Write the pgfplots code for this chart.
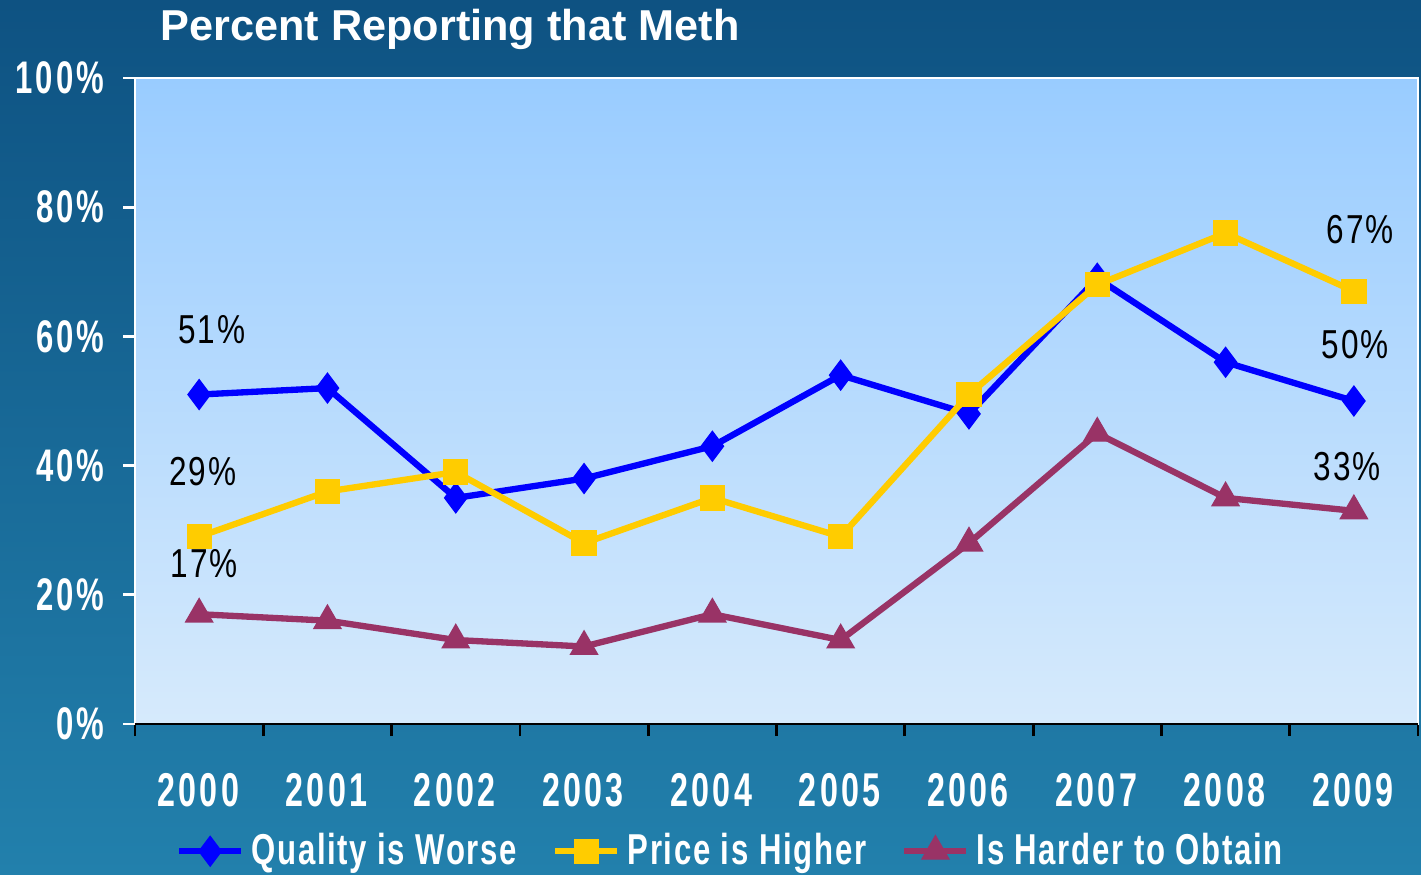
\documentclass[border=0pt]{standalone}
\usepackage{pgfplots}
\pgfplotsset{compat=1.18}
\usepackage{fontspec}
\setmainfont{Liberation Sans}
\newfontfamily\narrowfont[FakeStretch=0.72,LetterSpace=4]{Liberation Sans}
\newfontfamily\tickfont[FakeStretch=0.68,LetterSpace=7]{Liberation Sans}
\newfontfamily\labelfont[FakeStretch=0.78,LetterSpace=5]{Liberation Sans}

\definecolor{bgtop}{RGB}{14,82,130}
\definecolor{bgbot}{RGB}{34,128,172}
\definecolor{plottop}{RGB}{153,204,255}
\definecolor{plotbot}{RGB}{214,234,252}
\definecolor{qblue}{RGB}{0,0,255}
\definecolor{pyellow}{RGB}{255,204,0}
\definecolor{hmaroon}{RGB}{153,51,102}

\begin{document}
\begin{tikzpicture}
  \shade[top color=bgtop, bottom color=bgbot] (0,0) rectangle (14.21cm,8.74cm);
  \node[anchor=west, text=white, font=\bfseries\fontsize{12.3}{14}\selectfont, inner sep=0pt]
    at (1.60cm,8.45cm) {Percent Reporting that Meth};

  \begin{axis}[
      at={(1.35cm,1.50cm)}, anchor=south west,
      scale only axis,
      width=12.83cm, height=6.46cm,
      xmin=-0.5, xmax=9.5,
      ymin=0, ymax=100,
      axis background/.style={shade, top color=plottop, bottom color=plotbot},
      axis line style={white, line width=0.8pt},
      xtick={-0.5,0.5,...,9.5},
      x tick label as interval,
      xticklabels={2000,2001,2002,2003,2004,2005,2006,2007,2008,2009},
      ytick={0,20,...,100},
      yticklabel={\pgfmathprintnumber{\tick}\%},
      /pgf/number format/assume math mode=true,
      xtick pos=bottom, ytick pos=left,
      tick align=outside,
      major tick length=0.12cm,
      x tick style={black, line width=0.8pt},
      y tick style={white, line width=0.8pt},
      xticklabel style={text=white, font=\tickfont\bfseries\fontsize{13.5}{15}\selectfont, yshift=-0.25cm, xshift=-0.01cm},
      yticklabel style={text=white, font=\tickfont\bfseries\fontsize{13}{14}\selectfont, xshift=-0.06cm},
      legend style={at={(0.466,-0.197)}, anchor=center, draw=none, fill=none,
        legend columns=-1, text=white,
        font=\narrowfont\bfseries\fontsize{12.3}{14}\selectfont,
        /tikz/every even column/.append style={column sep=0.28cm}},
      legend image code/.code={\draw[mark repeat=2,mark phase=2]
        plot coordinates {(0cm,0cm) (0.31cm,0cm) (0.62cm,0cm)};},
    ]
    \addplot[qblue, line width=1.8pt, mark=diamond*, mark size=4.2pt, mark options={solid, fill=qblue, line width=0.4pt}]
      coordinates {(0,51) (1,52) (2,35) (3,38) (4,43) (5,54) (6,48) (7,69) (8,56) (9,50)};
    \addplot[pyellow, line width=1.8pt, mark=square*, mark size=3.4pt, mark options={solid, fill=pyellow, line width=0.4pt}]
      coordinates {(0,29) (1,36) (2,39) (3,28) (4,35) (5,29) (6,51) (7,68) (8,76) (9,67)};
    \addplot[hmaroon, line width=1.8pt, mark=triangle*, mark size=4.4pt, mark options={solid, fill=hmaroon, line width=0.4pt}]
      coordinates {(0,17) (1,16) (2,13) (3,12) (4,17) (5,13) (6,28) (7,45) (8,35) (9,33)};
    \legend{Quality is Worse, Price is Higher, Is Harder to Obtain}

    \draw[black, line width=0.8pt] (rel axis cs:0,0) -- (rel axis cs:1,0);

    \begin{scope}[every node/.style={font=\labelfont\fontsize{11.5}{13}\selectfont, text=black}]
      \node at (axis cs:0.10,61.0) {51\%};
      \node at (axis cs:0.03,39.0) {29\%};
      \node at (axis cs:0.04,24.8) {17\%};
      \node at (axis cs:9.05,76.5) {67\%};
      \node at (axis cs:9.01,58.7) {50\%};
      \node at (axis cs:8.95,39.9) {33\%};
    \end{scope}
  \end{axis}
  \pgfresetboundingbox
  \path (0,0) rectangle (14.21cm,8.74cm);
\end{tikzpicture}
\end{document}
